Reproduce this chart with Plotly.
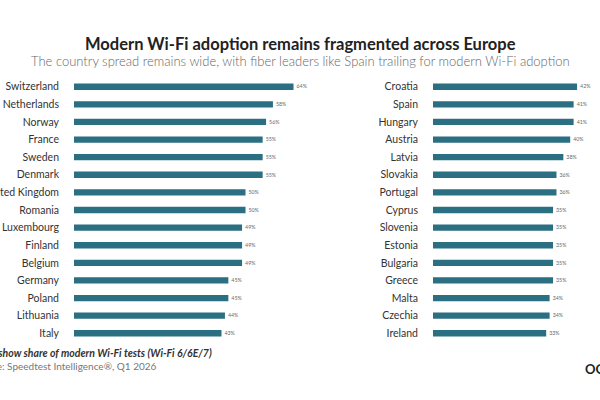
import plotly.graph_objects as go

left_countries = ["Switzerland", "Netherlands", "Norway", "France", "Sweden", "Denmark",
                  "United Kingdom", "Romania", "Luxembourg", "Finland", "Belgium",
                  "Germany", "Poland", "Lithuania", "Italy"]
left_values = [64, 58, 56, 55, 55, 55, 50, 50, 49, 49, 49, 45, 45, 44, 43]

right_countries = ["Croatia", "Spain", "Hungary", "Austria", "Latvia", "Slovakia",
                   "Portugal", "Cyprus", "Slovenia", "Estonia", "Bulgaria", "Greece",
                   "Malta", "Czechia", "Ireland"]
right_values = [42, 41, 41, 40, 38, 36, 36, 35, 35, 35, 35, 35, 34, 34, 33]

title = "Modern Wi-Fi adoption remains fragmented across Europe"
subtitle = "The country spread remains wide, with fiber leaders like Spain trailing for modern Wi-Fi adoption"
note = "Values show share of modern Wi-Fi tests (Wi-Fi 6/6E/7)"
source = "Source: Speedtest Intelligence®, Q1 2026"

BAR = "#2b6f82"
W, H = 600, 400
PX = 3.43  # pixels per percent
FONT = "Lato, sans-serif"

fig = go.Figure()

def add_panel(countries, values, xa, ya):
    fig.add_trace(go.Bar(
        x=values, y=countries, orientation="h",
        marker=dict(color=BAR, line=dict(width=0)),
        width=0.36,
        text=[f"{v}%" for v in values], textposition="outside",
        textfont=dict(family=FONT, size=7.5, color="#666666"),
        cliponaxis=False,
        xaxis=xa, yaxis=ya, showlegend=False, hoverinfo="skip",
    ))

add_panel(left_countries, left_values, "x", "y")
add_panel(right_countries, right_values, "x2", "y2")

y_top, y_bot = 77.9, 342.1
ydom = [1 - y_bot / H, 1 - y_top / H]

lx0 = 74
lrange = 70
rx0 = 433
rrange = 48

axis_common = dict(showgrid=False, zeroline=False, showticklabels=False, showline=False,
                   ticks="", automargin=False)
ycommon = dict(showgrid=False, zeroline=False, showline=False, ticks="", automargin=False,
               tickfont=dict(family=FONT, size=10.5, color="#333333"),
               autorange="reversed", ticklabelstandoff=14)

fig.update_layout(
    width=W, height=H,
    margin=dict(l=0, r=0, t=0, b=0, autoexpand=False),
    paper_bgcolor="white", plot_bgcolor="white",
    bargap=0.6,
    xaxis=dict(domain=[lx0 / W, (lx0 + lrange * PX) / W], range=[0, lrange], **axis_common),
    xaxis2=dict(domain=[rx0 / W, (rx0 + rrange * PX) / W], range=[0, rrange], anchor="y2", **axis_common),
    yaxis=dict(domain=ydom, **ycommon),
    yaxis2=dict(domain=ydom, anchor="x2", **ycommon),
)

fig.add_annotation(text=title, x=0.5, y=1 - 44 / H, xref="paper", yref="paper",
                   xanchor="center", yanchor="middle", showarrow=False,
                   font=dict(family=FONT, size=16.5, color="#222222", weight=700))
fig.add_annotation(text=subtitle, x=0.5, y=1 - 61 / H, xref="paper", yref="paper",
                   xanchor="center", yanchor="middle", showarrow=False,
                   font=dict(family=FONT, size=13, color="#666666", weight=300))
fig.add_annotation(text=f"<b><i>{note}</i></b>", x=-35 / W, y=1 - 353 / H, xref="paper", yref="paper",
                   xanchor="left", yanchor="middle", showarrow=False,
                   font=dict(family=FONT, size=10.5, color="#333333"))
fig.add_annotation(text=source, x=-30 / W, y=1 - 366 / H, xref="paper", yref="paper",
                   xanchor="left", yanchor="middle", showarrow=False,
                   font=dict(family=FONT, size=10, color="#777777"))
fig.add_annotation(text="<b>OOKLA</b>", x=583 / W, y=1 - 369 / H, xref="paper", yref="paper",
                   xanchor="left", yanchor="middle", showarrow=False,
                   font=dict(family=FONT, size=13, color="#222222"))

fig.write_html("out.html")
